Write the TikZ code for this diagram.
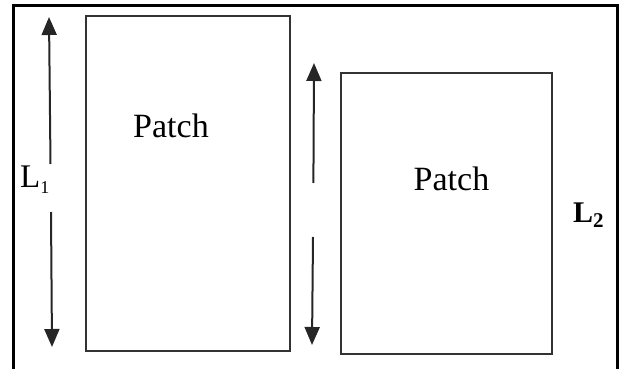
\documentclass[tikz,border=0pt]{standalone}
\usepackage{fontspec}
\setmainfont{Liberation Serif}
\usetikzlibrary{arrows.meta}
\begin{document}
\begin{tikzpicture}[x=1pt,y=-1pt,
  frame/.style={line width=3pt,black},
  patchbox/.style={draw=black!80,line width=1.6pt},
  dimline/.style={line width=2pt,black!85},
  dimarrow/.style={dimline,-{Triangle[length=18pt,width=15pt]}},
  lbl/.style={inner sep=0pt,anchor=base},
  txt/.style={font=\fontsize{34}{40}\selectfont}]
\useasboundingbox (0,0) rectangle (619,369);
\draw[frame] (13,369) -- (13,6) -- (617,6) -- (617,369);
\draw[patchbox] (86,16) rectangle (290,351);
\draw[patchbox] (341,73) rectangle (552,354);
\node[lbl,txt] (p1) at (171,137) {Patch};
\node[lbl,txt] (p2) at (451.5,190) {Patch};
\node[lbl,anchor=base west,font=\fontsize{33}{40}\selectfont] (l1) at (20,187) {L\raisebox{-6pt}{\fontsize{18}{18}\selectfont 1}};
\node[lbl,anchor=base west,font=\fontsize{30}{36}\selectfont\bfseries] (l2) at (573,222) {L\raisebox{-5pt}{\fontsize{21}{21}\selectfont 2}};
\coordinate (a1t) at (49,17);
\coordinate (a1u) at (50.5,164);
\coordinate (a1l) at (51,212);
\coordinate (a1b) at (52,347);
\coordinate (a2t) at (314,63);
\coordinate (a2u) at (313.4,183);
\coordinate (a2l) at (313,237);
\coordinate (a2b) at (312,345);
\draw[dimarrow] (a1u) -- (a1t);
\draw[dimarrow] (a1l) -- (a1b);
\draw[dimarrow] (a2u) -- (a2t);
\draw[dimarrow] (a2l) -- (a2b);
\end{tikzpicture}
\end{document}
